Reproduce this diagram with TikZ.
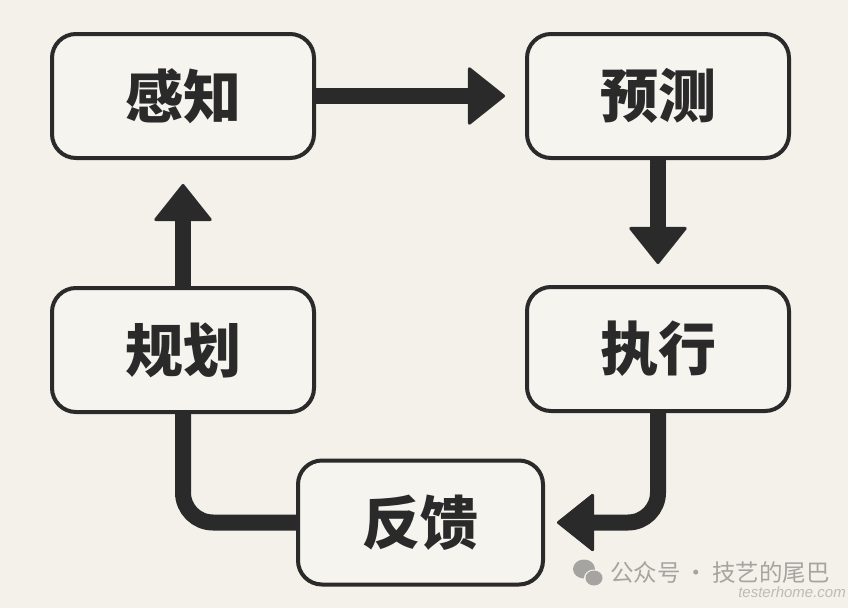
\documentclass[tikz,border=0pt]{standalone}
\usepackage{fontspec}
\newfontfamily\cjk{Noto Sans CJK SC}
\newfontfamily\wm{Liberation Sans}
\usetikzlibrary{arrows.meta}
\definecolor{bg}{HTML}{F4F1EB}
\definecolor{boxfill}{HTML}{F6F4EF}
\definecolor{ink}{HTML}{2A2A2A}
\definecolor{wmgrey}{HTML}{A6A4A0}
\tikzset{
  stage/.style={draw=ink, fill=boxfill, line width=4pt, rounded corners=24pt,
    minimum width=262pt, minimum height=124pt, inner sep=0pt,
    font=\cjk\bfseries\fontsize{58}{60}\selectfont, text=ink},
  conn/.style={draw=ink, line width=16pt},
  arr/.style={conn, -{Triangle[width=60pt,length=38pt,round,line width=3pt]}},
}
\begin{document}
\begin{tikzpicture}[x=1pt,y=-1pt]
\fill[bg] (0,0) rectangle (848,608);
\useasboundingbox (0,0) rectangle (848,608);
\node[stage] (gz) at (183,96) {感知};
\node[stage] (yc) at (658,96) {预测};
\node[stage] (gh) at (183,350) {规划};
\node[stage] (zx) at (658,349) {执行};
\node[stage, minimum width=245pt] (fk) at (420.5,522.5) {反馈};
\draw[arr, shorten >=20pt] (gz.east) -- (yc.west);
\draw[arr, shorten >=21pt] (yc.south) -- (zx.north);
\draw[arr, shorten >=12pt, rounded corners=30pt] (zx.south) |- (fk.east);
\draw[conn, rounded corners=30pt] (fk.west) -| (gh.south);
\draw[arr, shorten >=24pt] (gh.north) -- (gz.south);
% watermark
\node[inner sep=0pt, anchor=west, text=wmgrey, font=\cjk\fontsize{23.5}{26}\selectfont] (wmtext) at (610,573) {公众号\,·\,技艺的尾巴};
\fill[wmgrey] (584,569) ellipse [x radius=11pt, y radius=9.5pt];
\fill[bg] (594,578) ellipse [x radius=10pt, y radius=8.5pt];
\fill[wmgrey] (594,578) ellipse [x radius=8.5pt, y radius=7.5pt];
\node[inner sep=0pt, anchor=east, text=wmgrey!70!bg, font=\wm\itshape\fontsize{15}{16}\selectfont] (wmsite) at (846,592) {testerhome.com};
\end{tikzpicture}
\end{document}
